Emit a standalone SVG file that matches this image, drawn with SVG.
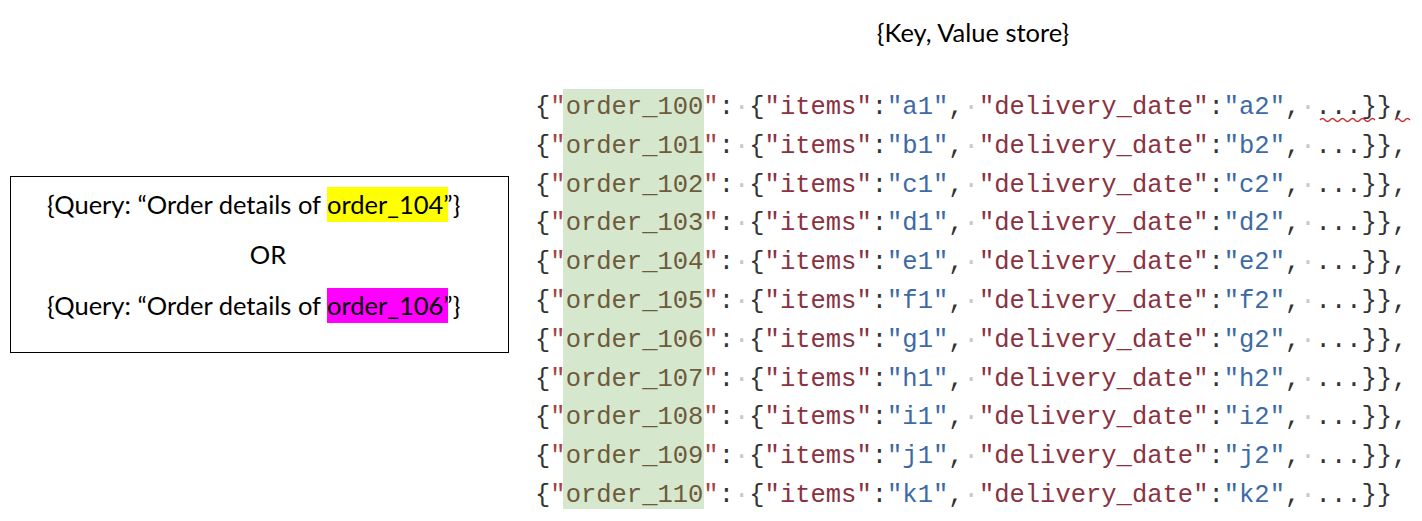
<svg xmlns="http://www.w3.org/2000/svg" width="1422" height="521" viewBox="0 0 1422 521">
<style>
.code{font-family:"Liberation Mono","DejaVu Sans Mono",monospace;font-size:25.5px;fill:#333}
.q{fill:#a84444}
.k{fill:#6e5a3c}
.s{fill:#8a3240}
.v{fill:#3d6aa6}
.d{fill:#c8c8c8}
.lbl{font-family:Lato,"Liberation Sans",sans-serif;font-size:25.5px;fill:#000}
</style>
<rect width="1422" height="521" fill="#fff"/>
<g id="title"><text class="lbl" x="973" y="42" text-anchor="middle">{Key, Value store}</text></g>
<g id="query">
<rect x="10.5" y="176.5" width="498" height="176" fill="#fff" stroke="#000" stroke-width="1"/>
<rect x="327" y="187" width="121" height="35" fill="#ffff00"/>
<rect x="327" y="288" width="121" height="35" fill="#ff00ff"/>
<text class="lbl" x="321" y="214" text-anchor="end">{Query: “Order details of</text>
<text class="lbl" x="327" y="214">order_104”}</text>
<text class="lbl" x="268" y="264" text-anchor="middle">OR</text>
<text class="lbl" x="321" y="315" text-anchor="end">{Query: “Order details of</text>
<text class="lbl" x="327" y="315">order_106”}</text>
</g>
<g id="store">
<rect x="563" y="89" width="141" height="420" fill="#d5e7cd"/>
<text class="code" x="535" y="114">{<tspan class="q">"</tspan><tspan class="k">order_100</tspan><tspan class="q">"</tspan>:<tspan class="d">·</tspan>{<tspan class="s">"items"</tspan>:<tspan class="v">"a1"</tspan>,<tspan class="d">·</tspan><tspan class="s">"delivery_date"</tspan>:<tspan class="v">"a2"</tspan>,<tspan class="d">·</tspan>...}},</text>
<text class="code" x="535" y="152.8">{<tspan class="q">"</tspan><tspan class="k">order_101</tspan><tspan class="q">"</tspan>:<tspan class="d">·</tspan>{<tspan class="s">"items"</tspan>:<tspan class="v">"b1"</tspan>,<tspan class="d">·</tspan><tspan class="s">"delivery_date"</tspan>:<tspan class="v">"b2"</tspan>,<tspan class="d">·</tspan>...}},</text>
<text class="code" x="535" y="191.6">{<tspan class="q">"</tspan><tspan class="k">order_102</tspan><tspan class="q">"</tspan>:<tspan class="d">·</tspan>{<tspan class="s">"items"</tspan>:<tspan class="v">"c1"</tspan>,<tspan class="d">·</tspan><tspan class="s">"delivery_date"</tspan>:<tspan class="v">"c2"</tspan>,<tspan class="d">·</tspan>...}},</text>
<text class="code" x="535" y="230.4">{<tspan class="q">"</tspan><tspan class="k">order_103</tspan><tspan class="q">"</tspan>:<tspan class="d">·</tspan>{<tspan class="s">"items"</tspan>:<tspan class="v">"d1"</tspan>,<tspan class="d">·</tspan><tspan class="s">"delivery_date"</tspan>:<tspan class="v">"d2"</tspan>,<tspan class="d">·</tspan>...}},</text>
<text class="code" x="535" y="269.2">{<tspan class="q">"</tspan><tspan class="k">order_104</tspan><tspan class="q">"</tspan>:<tspan class="d">·</tspan>{<tspan class="s">"items"</tspan>:<tspan class="v">"e1"</tspan>,<tspan class="d">·</tspan><tspan class="s">"delivery_date"</tspan>:<tspan class="v">"e2"</tspan>,<tspan class="d">·</tspan>...}},</text>
<text class="code" x="535" y="308">{<tspan class="q">"</tspan><tspan class="k">order_105</tspan><tspan class="q">"</tspan>:<tspan class="d">·</tspan>{<tspan class="s">"items"</tspan>:<tspan class="v">"f1"</tspan>,<tspan class="d">·</tspan><tspan class="s">"delivery_date"</tspan>:<tspan class="v">"f2"</tspan>,<tspan class="d">·</tspan>...}},</text>
<text class="code" x="535" y="346.8">{<tspan class="q">"</tspan><tspan class="k">order_106</tspan><tspan class="q">"</tspan>:<tspan class="d">·</tspan>{<tspan class="s">"items"</tspan>:<tspan class="v">"g1"</tspan>,<tspan class="d">·</tspan><tspan class="s">"delivery_date"</tspan>:<tspan class="v">"g2"</tspan>,<tspan class="d">·</tspan>...}},</text>
<text class="code" x="535" y="385.6">{<tspan class="q">"</tspan><tspan class="k">order_107</tspan><tspan class="q">"</tspan>:<tspan class="d">·</tspan>{<tspan class="s">"items"</tspan>:<tspan class="v">"h1"</tspan>,<tspan class="d">·</tspan><tspan class="s">"delivery_date"</tspan>:<tspan class="v">"h2"</tspan>,<tspan class="d">·</tspan>...}},</text>
<text class="code" x="535" y="424.4">{<tspan class="q">"</tspan><tspan class="k">order_108</tspan><tspan class="q">"</tspan>:<tspan class="d">·</tspan>{<tspan class="s">"items"</tspan>:<tspan class="v">"i1"</tspan>,<tspan class="d">·</tspan><tspan class="s">"delivery_date"</tspan>:<tspan class="v">"i2"</tspan>,<tspan class="d">·</tspan>...}},</text>
<text class="code" x="535" y="463.2">{<tspan class="q">"</tspan><tspan class="k">order_109</tspan><tspan class="q">"</tspan>:<tspan class="d">·</tspan>{<tspan class="s">"items"</tspan>:<tspan class="v">"j1"</tspan>,<tspan class="d">·</tspan><tspan class="s">"delivery_date"</tspan>:<tspan class="v">"j2"</tspan>,<tspan class="d">·</tspan>...}},</text>
<text class="code" x="535" y="502">{<tspan class="q">"</tspan><tspan class="k">order_110</tspan><tspan class="q">"</tspan>:<tspan class="d">·</tspan>{<tspan class="s">"items"</tspan>:<tspan class="v">"k1"</tspan>,<tspan class="d">·</tspan><tspan class="s">"delivery_date"</tspan>:<tspan class="v">"k2"</tspan>,<tspan class="d">·</tspan>...}}</text>
<path d="M1320 120 q2.5 -3 5 0 t5 0 t5 0 t5 0 t5 0 t5 0 t5 0 t5 0 t5 0 t5 0 t5 0 M1395 120 q2.5 -3 5 0 t5 0 t5 0" fill="none" stroke="#c03030" stroke-width="1.3"/>
</g>
</svg>
